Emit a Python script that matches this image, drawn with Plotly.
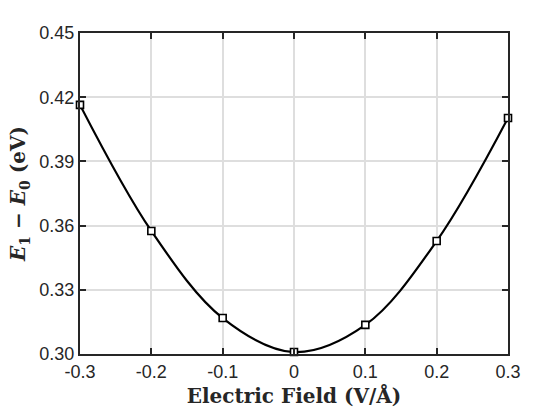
import plotly.graph_objects as go

field = [-0.3, -0.2, -0.1, 0.0, 0.1, 0.2, 0.3]
gap = [0.4164, 0.3575, 0.3168, 0.3009, 0.3136, 0.3528, 0.4103]

x_ticks = [-0.3, -0.2, -0.1, 0, 0.1, 0.2, 0.3]
x_labels = ["-0.3", "-0.2", "-0.1", "0", "0.1", "0.2", "0.3"]
y_ticks = [0.30, 0.33, 0.36, 0.39, 0.42, 0.45]
y_labels = ["0.30", "0.33", "0.36", "0.39", "0.42", "0.45"]

fig = go.Figure()
fig.add_trace(go.Scatter(
    x=field, y=gap, mode="lines+markers",
    line=dict(color="black", width=2.2, shape="spline", smoothing=1.0),
    marker=dict(symbol="square", size=7, color="white",
                line=dict(color="black", width=1.6)),
    cliponaxis=False, showlegend=False,
))

axis_common = dict(
    showline=True, linecolor="#262626", linewidth=2, mirror="ticks",
    ticks="inside", ticklen=6, tickwidth=1.5, tickcolor="#262626",
    showgrid=True, gridcolor="#dedede", gridwidth=1.5, zeroline=False,
    tickfont=dict(family="Liberation Sans, Arial", size=18, color="#262626"),
)

title_font = dict(family="DejaVu Serif, Liberation Serif", size=20, color="#262626")

fig.update_xaxes(
    range=[-0.3, 0.3], tickvals=x_ticks, ticktext=x_labels,
    title=dict(text="<b>Electric Field (V/Å)</b>", standoff=8, font=title_font),
    **axis_common,
)
fig.update_yaxes(
    range=[0.30, 0.45], tickvals=y_ticks, ticktext=y_labels,
    title=dict(text="<b><i>E</i><sub>1</sub> − <i>E</i><sub>0</sub> (eV)</b>", standoff=8,
               font=title_font),
    **axis_common,
)

fig.update_layout(
    width=560, height=420,
    margin=dict(l=80, r=52, t=33, b=66),
    paper_bgcolor="white", plot_bgcolor="white",
)

fig.write_html("out.html")
